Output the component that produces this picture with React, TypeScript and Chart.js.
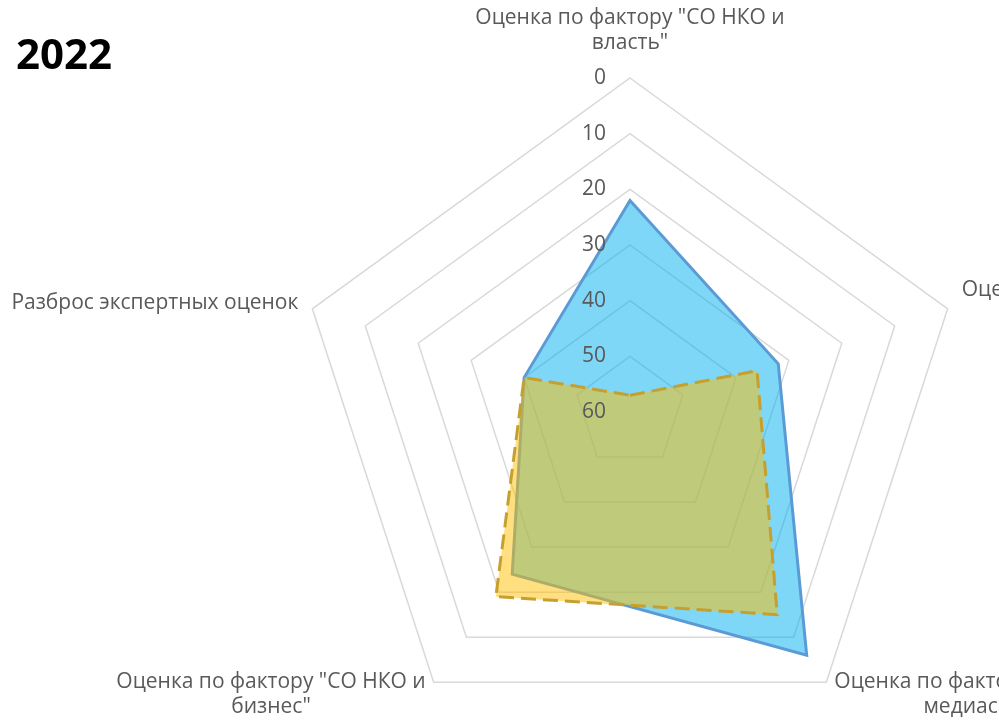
import React, { useEffect, useRef } from 'react';
import { Chart, registerables } from 'chart.js';

Chart.register(...registerables);

// ---- data ----
const TITLE = '2022';
const categories: string[][] = [
  ['Оценка по фактору "СО НКО и', 'власть"'],
  ['Оценка по фактору "СО НКО и', 'общество"'],
  ['Оценка по фактору "СО НКО и', 'медиасреда"'],
  ['Оценка по фактору "СО НКО и', 'бизнес"'],
  ['Разброс экспертных оценок'],
];
const seriesBlue = [22, 32, 6, 24, 40];
const seriesYellow = [57, 36, 15, 19, 40];
const scaleMin = 0;
const scaleMax = 60;
const scaleStep = 10;

const TEXT_COLOR = '#595959';
const FONT = '"Open Sans", "Noto Sans", sans-serif';

const labelsPlugin = {
  id: 'customLabels',
  afterDatasetsDraw(chart: any) {
    const scale = chart.scales.r;
    const ctx: CanvasRenderingContext2D = chart.ctx;
    ctx.save();
    // tick labels
    ctx.fillStyle = TEXT_COLOR;
    ctx.font = `21px ${FONT}`;
    ctx.textBaseline = 'middle';
    ctx.textAlign = 'right';
    scale.ticks.forEach((t: any) => {
      const d = scale.getDistanceFromCenterForValue(t.value);
      ctx.fillText(String(t.label), scale.xCenter - 24, scale.yCenter - d);
    });
    // point labels
    const lh = 25;
    categories.forEach((lines, i) => {
      const p = scale.getPointPosition(i, scale.drawingArea);
      const bw = Math.max(...lines.map((l) => ctx.measureText(l).width));
      let cx = p.x;
      let firstY = p.y;
      if (i === 0) {
        cx = p.x;
        firstY = p.y - 35 - (lines.length - 1) * lh;
      } else if (i === 1) {
        cx = p.x + 14 + bw / 2;
        firstY = p.y - 6 - ((lines.length - 1) * lh) / 2;
      } else if (i === 2) {
        cx = p.x + 8 + bw / 2;
        firstY = p.y;
      } else if (i === 3) {
        cx = p.x - 8 - bw / 2;
        firstY = p.y;
      } else {
        cx = p.x - 14 - bw / 2;
        firstY = p.y - 6 - ((lines.length - 1) * lh) / 2;
      }
      ctx.textAlign = 'center';
      lines.forEach((l, k) => ctx.fillText(l, cx, firstY + k * lh));
    });
    // title
    ctx.fillStyle = '#000000';
    ctx.font = `bold 42px ${FONT}`;
    ctx.textAlign = 'left';
    ctx.textBaseline = 'alphabetic';
    ctx.fillText(TITLE, 16, 69);
    ctx.restore();
  },
};

export default function App() {
  const canvasRef = useRef<HTMLCanvasElement | null>(null);

  useEffect(() => {
    if (!canvasRef.current) return;
    const chart = new Chart(canvasRef.current, {
      type: 'radar',
      data: {
        labels: categories.map((c) => c.join(' ')),
        datasets: [
          {
            label: 'Ряд 2',
            data: seriesYellow,
            order: 0,
            fill: 'start',
            backgroundColor: 'rgba(255,192,0,0.5)',
            borderColor: '#C6A02E',
            borderWidth: 3,
            borderDash: [15, 7],
            pointRadius: 0,
            pointHoverRadius: 0,
          },
          {
            label: 'Ряд 1',
            data: seriesBlue,
            order: 1,
            fill: 'start',
            backgroundColor: 'rgba(0,176,240,0.5)',
            borderColor: '#5B9BD5',
            borderWidth: 3,
            pointRadius: 0,
            pointHoverRadius: 0,
          },
        ],
      },
      options: {
        responsive: false,
        animation: false,
        layout: { padding: { left: 296, top: 78, right: 35, bottom: 0 } },
        plugins: {
          legend: { display: false },
          tooltip: { enabled: false },
        },
        elements: { line: { tension: 0 } },
        scales: {
          r: {
            min: scaleMin,
            max: scaleMax,
            reverse: true,
            ticks: { stepSize: scaleStep, display: false },
            grid: { color: '#D9D9D9', lineWidth: 1.5, circular: false },
            angleLines: { display: false },
            pointLabels: { display: false },
          },
        },
      },
      plugins: [labelsPlugin],
    });
    if ((document as any).fonts && (document as any).fonts.ready) {
      (document as any).fonts.ready.then(() => {
        try { chart.render(); } catch (e) { /* ignore */ }
      });
    }
    return () => chart.destroy();
  }, []);

  return (
    <div
      style={{
        position: 'absolute',
        left: 0,
        top: 0,
        width: 999,
        height: 723,
        overflow: 'hidden',
        background: '#ffffff',
      }}
    >
      <canvas ref={canvasRef} width={999} height={746} style={{ display: 'block', width: 999, height: 746 }} />
    </div>
  );
}
